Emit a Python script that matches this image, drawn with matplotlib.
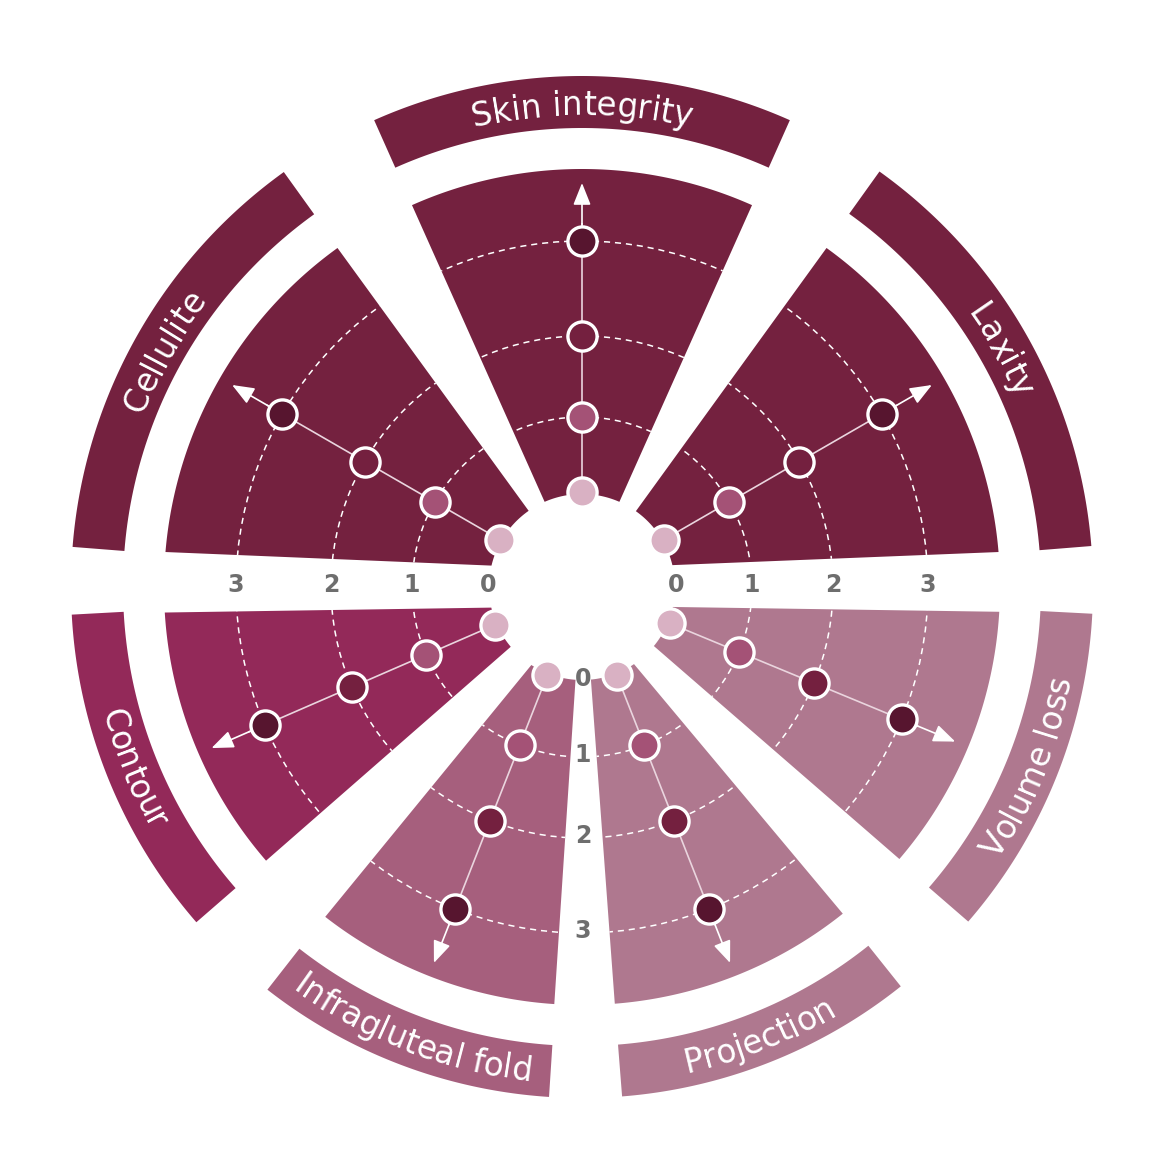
import numpy as np
import matplotlib
matplotlib.use('Agg')
import matplotlib.pyplot as plt
from matplotlib.patches import Polygon, Circle
from matplotlib.font_manager import FontProperties, findfont
from matplotlib.ft2font import FT2Font

# ---------------- data ----------------
CATEGORIES = ['Laxity', 'Skin integrity', 'Cellulite', 'Contour',
              'Infragluteal fold', 'Projection', 'Volume loss']
LEVELS = [0, 1, 2, 3]
TICK_LABELS = ['0', '1', '2', '3']

# ---------------- layout / style ----------------
W, H, DPI = 1156, 1160, 100
CX, CY = 582, 587
R_IN, R_OUT = 93, 418
BAND_IN, BAND_OUT = 459, 511
LEVEL_R = [95, 170, 251, 346]
TICK_R = [94, 170, 251, 346]
ARROW_TIP_R = 404
AXIS_ANGLE = [30, 90, 150, 203.5, 248.5, 291.5, 337.5]
# (start_inner, start_outer, end_inner, end_outer) in degrees, counter-clockwise
WEDGE_EDGES = [(13.6, 4.8, 54.6, 54.2), (66.3, 66.0, 113.7, 114.0),
               (125.0, 125.8, 166.7, 175.2), (192.8, 183.5, 220.0, 220.9),
               (237.0, 232.1, 266.0, 266.2), (275.5, 274.5, 304.0, 308.6),
               (320.6, 319.4, 347.6, 356.6)]
BAND_EDGES = [(4.6, 54.4), (66.0, 114.0), (125.7, 175.5), (183.1, 221.0),
              (232.0, 266.3), (274.5, 308.6), (319.1, 357.0)]
TOPS_OUTWARD = [True, True, True, False, False, False, False]
COLORS = ['#74213F', '#74213F', '#74213F', '#932959', '#A65F7D', '#AF788F', '#AF788F']
MARKER_COLORS = ['#D9B1C3', '#A45276', '#74203F', '#57152F']
LINE_COLOR = '#EAD5DE'
TICK_COLOR = '#6E6E6E'
LABEL_PT = 23.5
LABEL_FAMILY = 'DejaVu Sans'
BASE_R_OUT = 472   # baseline radius, tops outward
BASE_R_IN = 497    # baseline radius, tops inward

fig = plt.figure(figsize=(W / DPI, H / DPI), dpi=DPI)
ax = fig.add_axes([0, 0, 1, 1])
ax.set_xlim(0, W)
ax.set_ylim(H, 0)
ax.axis('off')


def P(r, th):
    t = np.radians(th)
    return CX + r * np.cos(t), CY - r * np.sin(t)


def sector_pts(si, so, ei, eo, r_in, r_out):
    outer = [P(r_out, t) for t in np.linspace(so, eo, 120)]
    inner = [P(r_in, t) for t in np.linspace(ei, si, 60)]
    return np.array(outer + inner)


# font metrics for curved labels
prop = FontProperties(family=LABEL_FAMILY, size=LABEL_PT)
ft = FT2Font(findfont(prop))
ft.set_size(LABEL_PT, DPI)


def advance(c):
    g = ft.load_char(ord(c))
    return g.linearHoriAdvance / 65536.0


def curved_text(text, center_deg, r, outward):
    adv = np.array([advance(c) for c in text])
    total = adv.sum()
    pos = np.concatenate([[0], np.cumsum(adv)[:-1]]) + adv / 2 - total / 2
    for c, s in zip(text, pos):
        dth = np.degrees(s / r)
        if outward:
            th = center_deg - dth
            rot = th - 90
        else:
            th = center_deg + dth
            rot = th + 90
        x, y = P(r, th)
        ax.text(x, y, c, rotation=rot, rotation_mode='anchor', ha='center',
                va='baseline', color='white', fontproperties=prop, zorder=6)


for i, cat in enumerate(CATEGORIES):
    col = COLORS[i]
    wedge = Polygon(sector_pts(*WEDGE_EDGES[i], R_IN, R_OUT), closed=True,
                    fc=col, ec='none', zorder=1)
    ax.add_patch(wedge)
    b0, b1 = BAND_EDGES[i]
    band = Polygon(sector_pts(b0, b0, b1, b1, BAND_IN, BAND_OUT), closed=True,
                   fc=col, ec='none', zorder=1)
    ax.add_patch(band)

    # dashed level rings clipped to wedge
    for r in LEVEL_R[1:]:
        c = Circle((CX, CY), r, fill=False, ec='white', lw=1.1,
                   ls=(0, (4, 3.2)), zorder=2)
        ax.add_patch(c)
        c.set_clip_path(wedge)

    a = AXIS_ANGLE[i]
    x0, y0 = P(LEVEL_R[0], a)
    x1, y1 = P(LEVEL_R[-1] + 18, a)
    ax.plot([x0, x1], [y0, y1], color=LINE_COLOR, lw=1.2, zorder=3,
            solid_capstyle='butt')
    ax.annotate('', xy=P(ARROW_TIP_R, a), xytext=P(LEVEL_R[-1] + 16, a),
                arrowprops=dict(arrowstyle='-|>,head_length=0.9,head_width=0.36',
                                color='white', lw=1.2, shrinkA=0, shrinkB=0,
                                mutation_scale=15), zorder=3)
    for lv in LEVELS:
        x, y = P(LEVEL_R[lv], a)
        ax.plot(x, y, 'o', ms=21, mfc=MARKER_COLORS[lv], mec='white',
                mew=2.4, zorder=4)

    center = (b0 + b1) / 2
    if TOPS_OUTWARD[i]:
        curved_text(cat, center, BASE_R_OUT, True)
    else:
        curved_text(cat, center, BASE_R_IN, False)

# tick labels
tick_kw = dict(ha='center', va='center', color=TICK_COLOR, fontsize=17,
               fontweight='bold', family='DejaVu Sans', zorder=6)
for lbl, r in zip(TICK_LABELS, TICK_R):
    ax.text(CX + r, 585, lbl, **tick_kw)
    ax.text(CX - r, 585, lbl, **tick_kw)
    ax.text(583, 585 + r, lbl, **tick_kw)

fig.savefig('out.png', dpi=DPI)
